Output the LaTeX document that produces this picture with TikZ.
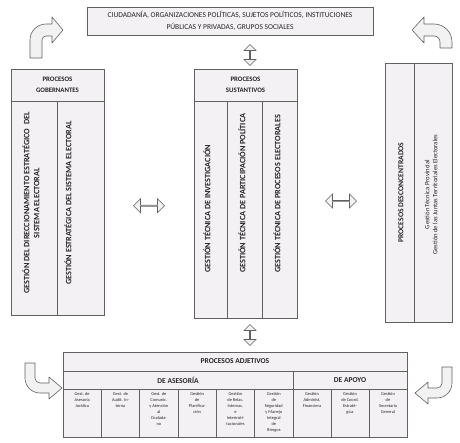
\documentclass[tikz,border=0pt]{standalone}
\usepackage{fontspec}
\setmainfont{Carlito}
\usetikzlibrary{positioning,calc,shapes.arrows}
\definecolor{grisBorde}{HTML}{616161}
\definecolor{fondoCaja}{HTML}{F4F1F4}
\definecolor{grisFlecha}{HTML}{F2F2F2}
\definecolor{textoG}{HTML}{262626}
\tikzset{
  caja/.style={draw=grisBorde,fill=fondoCaja,line width=.8pt,inner sep=0pt,outer sep=0pt},
  titulo/.style={font=\bfseries\fontsize{6.8}{11}\selectfont,align=center,text=textoG},
  vertical/.style={rotate=90,font=\bfseries\fontsize{8.2}{10}\selectfont,align=center,text=textoG,inner sep=0pt},
  chica/.style={font=\fontsize{4.4}{6.1}\selectfont,align=center,text=textoG,inner sep=0pt},
  flechaH/.style={double arrow,draw=grisBorde,fill=grisFlecha,line width=.6pt,minimum height=31pt,
    minimum width=14pt,double arrow head extend=3.5pt,inner sep=0pt},
  flechaV/.style={flechaH,rotate=90,minimum height=21pt,minimum width=12pt,double arrow head extend=3pt},
  curva/.style={draw=grisBorde,fill=grisFlecha,line width=.6pt,line join=round}
}
\begin{document}
\begin{tikzpicture}[x=1pt,y=-1pt]
  \useasboundingbox (0,0) rectangle (460,442);
  \node[caja,font=\fontsize{7.5}{11.5}\selectfont,align=center,text=textoG,
    minimum width=286pt,minimum height=28pt,anchor=north west] (actores) at (87,7)
    {CIUDADANÍA, ORGANIZACIONES POLÍTICAS, SUJETOS POLÍTICOS, INSTITUCIONES\\
     PÚBLICAS Y PRIVADAS, GRUPOS SOCIALES};

  \node[caja,titulo,minimum width=93pt,minimum height=32pt,anchor=north west] (gobTit) at (11,69)
    {PROCESOS\\GOBERNANTES};
  \node[caja,minimum width=46pt,minimum height=214pt,below right=0pt and 0pt of gobTit.south west] (gobA) {};
  \node[caja,minimum width=47pt,minimum height=214pt,anchor=north west] (gobB) at (gobA.north east) {};
  \node[vertical] (gobAtxt) at ($(gobA.center)+(-3,-5)$)
    {GESTIÓN DEL DIRECCIONAMIENTO ESTRATÉGICO~ DEL\\SISTEMA ELECTORAL};
  \node[vertical] (gobBtxt) at ($(gobB.center)+(-12.5,-5)$)
    {GESTIÓN ESTRATÉGICA DEL SISTEMA ELECTORAL};

  \node[caja,titulo,minimum width=103pt,minimum height=32pt,anchor=north west] (susTit) at (194,69)
    {PROCESOS\\SUSTANTIVOS};
  \node[caja,minimum width=33pt,minimum height=217pt,below right=0pt and 0pt of susTit.south west] (susA) {};
  \node[caja,minimum width=35pt,minimum height=217pt,anchor=north west] (susB) at (susA.north east) {};
  \node[caja,minimum width=35pt,minimum height=217pt,anchor=north west] (susC) at (susB.north east) {};
  \node[vertical,anchor=west] (susAtxt) at ($(susA.south)+(-3.5,-45)$) {GESTIÓN TÉCNICA DE INVESTIGACIÓN};
  \node[vertical,anchor=west] (susBtxt) at ($(susB.south)+(-2.5,-45)$) {GESTIÓN TÉCNICA DE PARTICIPACIÓN POLÍTICA};
  \node[vertical,anchor=west] (susCtxt) at ($(susC.south)+(-2.5,-45)$) {GESTIÓN TÉCNICA DE PROCESOS ELECTORALES};

  \node[caja,minimum width=29pt,minimum height=259pt,anchor=north west] (desA) at (385,63) {};
  \node[caja,minimum width=38pt,minimum height=259pt,anchor=north west] (desB) at (desA.north east) {};
  \node[vertical,font=\bfseries\fontsize{7.6}{10}\selectfont] (desAtxt) at ($(desA.center)+(1.5,0)$)
    {PROCESOS DESCONCENTRADOS};
  \node[vertical,font=\fontsize{6.6}{8}\selectfont] (desBtxt) at ($(desB.center)+(-2,2)$)
    {Gestión Técnica Provincial\\Gestión de las Juntas Territoriales Electorales};

  \node[caja,titulo,font=\bfseries\fontsize{7.5}{9}\selectfont,minimum width=344pt,minimum height=19pt,
    anchor=north west] (adjTit) at (63,352) {PROCESOS ADJETIVOS};
  \node[caja,titulo,font=\bfseries\fontsize{7.5}{9}\selectfont,minimum width=230pt,minimum height=18pt,
    below right=0pt and 0pt of adjTit.south west] (aseTit) {DE ASESORÍA};
  \node[caja,titulo,font=\bfseries\fontsize{7.5}{9}\selectfont,minimum width=114pt,minimum height=18pt,
    anchor=north west] (apoTit) at (aseTit.north east) {DE APOYO};

  \node[caja,minimum width=38.33pt,minimum height=48pt,below right=0pt and 0pt of aseTit.south west] (aseA) {};
  \node[caja,minimum width=38.33pt,minimum height=48pt,right=0pt of aseA] (aseB) {};
  \node[caja,minimum width=38.33pt,minimum height=48pt,right=0pt of aseB] (aseC) {};
  \node[caja,minimum width=38.33pt,minimum height=48pt,right=0pt of aseC] (aseD) {};
  \node[caja,minimum width=38.33pt,minimum height=48pt,right=0pt of aseD] (aseE) {};
  \node[caja,minimum width=38.33pt,minimum height=48pt,right=0pt of aseE] (aseF) {};
  \node[caja,minimum width=38pt,minimum height=48pt,right=0pt of aseF] (apoA) {};
  \node[caja,minimum width=38pt,minimum height=48pt,right=0pt of apoA] (apoB) {};
  \node[caja,minimum width=38pt,minimum height=48pt,right=0pt of apoB] (apoC) {};

  \node[chica,below=3pt of aseA.north] (aseAtxt) {Gest. de\\Asesoría\\Jurídica};
  \node[chica,below=3pt of aseB.north] (aseBtxt) {Gest. de\\Audit. In-\\terna};
  \node[chica,below=3pt of aseC.north] (aseCtxt) {Gest. de\\Comunic.\\y Atención\\al\\Ciudada-\\no};
  \node[chica,below=3pt of aseD.north] (aseDtxt) {Gestión\\de\\Planifica-\\ción};
  \node[chica,below=3pt of aseE.north] (aseEtxt) {Gestión\\de Relac.\\Internac.\\e\\Interinsti-\\tucionales};
  \node[chica,below=3pt of aseF.north] (aseFtxt) {Gestión\\de\\Seguridad\\y Manejo\\Integral\\de\\Riesgos};
  \node[chica,below=3pt of apoA.north] (apoAtxt) {Gestión\\Administ.\\Financiera};
  \node[chica,below=3pt of apoB.north] (apoBtxt) {Gestión\\de Coord.\\Estraté-\\gica};
  \node[chica,below=3pt of apoC.north] (apoCtxt) {Gestión\\de\\Secretaría\\General};

  \node[flechaH] (fGobSus) at ($(gobB.east)!.5!(susA.west)+(0,-3)$) {};
  \node[flechaH] (fSusDes) at ($(susC.east)!.5!(desA.west)$) {};
  \node[flechaV] (fActSus) at ($(susTit.north)+(4.5,-14)$) {};
  \node[flechaV] (fSusAdj) at ($(susC.south west)!.5!(adjTit.north -| susC.south west)+(-12,0)$) {};

  \draw[curva] (30,58) -- (30,40) arc[start angle=180,end angle=270,radius=16] -- (52,24) -- (52,17)
    -- (63,30) -- (52,43) -- (52,36) -- (46,36) arc[start angle=270,end angle=180,radius=4] -- (42,58) -- cycle;
  \draw[curva] (452,48) -- (452,42) arc[start angle=0,end angle=-90,radius=18] -- (424,24) -- (424,17)
    -- (412,30) -- (424,43) -- (424,36) -- (434,36) arc[start angle=-90,end angle=0,radius=6] -- (440,48) -- cycle;
  \draw[curva] (25,363) -- (25,378) arc[start angle=180,end angle=90,radius=15] -- (49,393) -- (49,399)
    -- (62,388) -- (49,377) -- (49,383) -- (40,383) arc[start angle=90,end angle=180,radius=5] -- (35,363) -- cycle;
  \draw[curva] (452,367) -- (452,383) arc[start angle=0,end angle=90,radius=15] -- (428,398) -- (428,404)
    -- (415,393) -- (428,382) -- (428,388) -- (437,388) arc[start angle=90,end angle=0,radius=5] -- (442,367) -- cycle;
\end{tikzpicture}
\end{document}
